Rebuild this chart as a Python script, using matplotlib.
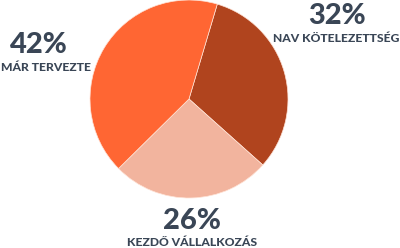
import matplotlib.pyplot as plt

# slice data, drawn clockwise starting at the top-right edge
labels = ['NAV KÖTELEZETTSÉG', 'KEZDŐ VÁLLALKOZÁS', 'MÁR TERVEZTE']
values = [32, 26, 42]
colors = ['#B0441E', '#F2B49E', '#FF6633']

# percent text: centre x and baseline (pixels from bottom); category label below it
pct_pos = [(337, 224), (192, 19), (39, 195)]
lab_pos = [(336, 206), (192, 2), (46, 177)]

text_color = '#3A4656'

fig = plt.figure(figsize=(4, 2.48), dpi=100)
ax = fig.add_axes([0, 0, 1, 1])

ax.pie(values, colors=colors, startangle=73.4, counterclock=False,
       center=(189, 149), radius=99,
       wedgeprops=dict(edgecolor='#FFE3D6', linewidth=0.5))

for lab, val, (px, py), (lx, ly) in zip(labels, values, pct_pos, lab_pos):
    ax.text(px, py, f'{val}%', ha='center', va='baseline', fontsize=21,
            fontfamily='Lato', fontweight='black', color=text_color)
    ax.text(lx, ly, lab, ha='center', va='baseline', fontsize=8.7,
            fontfamily='Lato', fontweight='black', color=text_color)

ax.set_xlim(0, 400)
ax.set_ylim(0, 248)
ax.set_aspect('equal')
ax.axis('off')

fig.savefig('out.png', dpi=100)
